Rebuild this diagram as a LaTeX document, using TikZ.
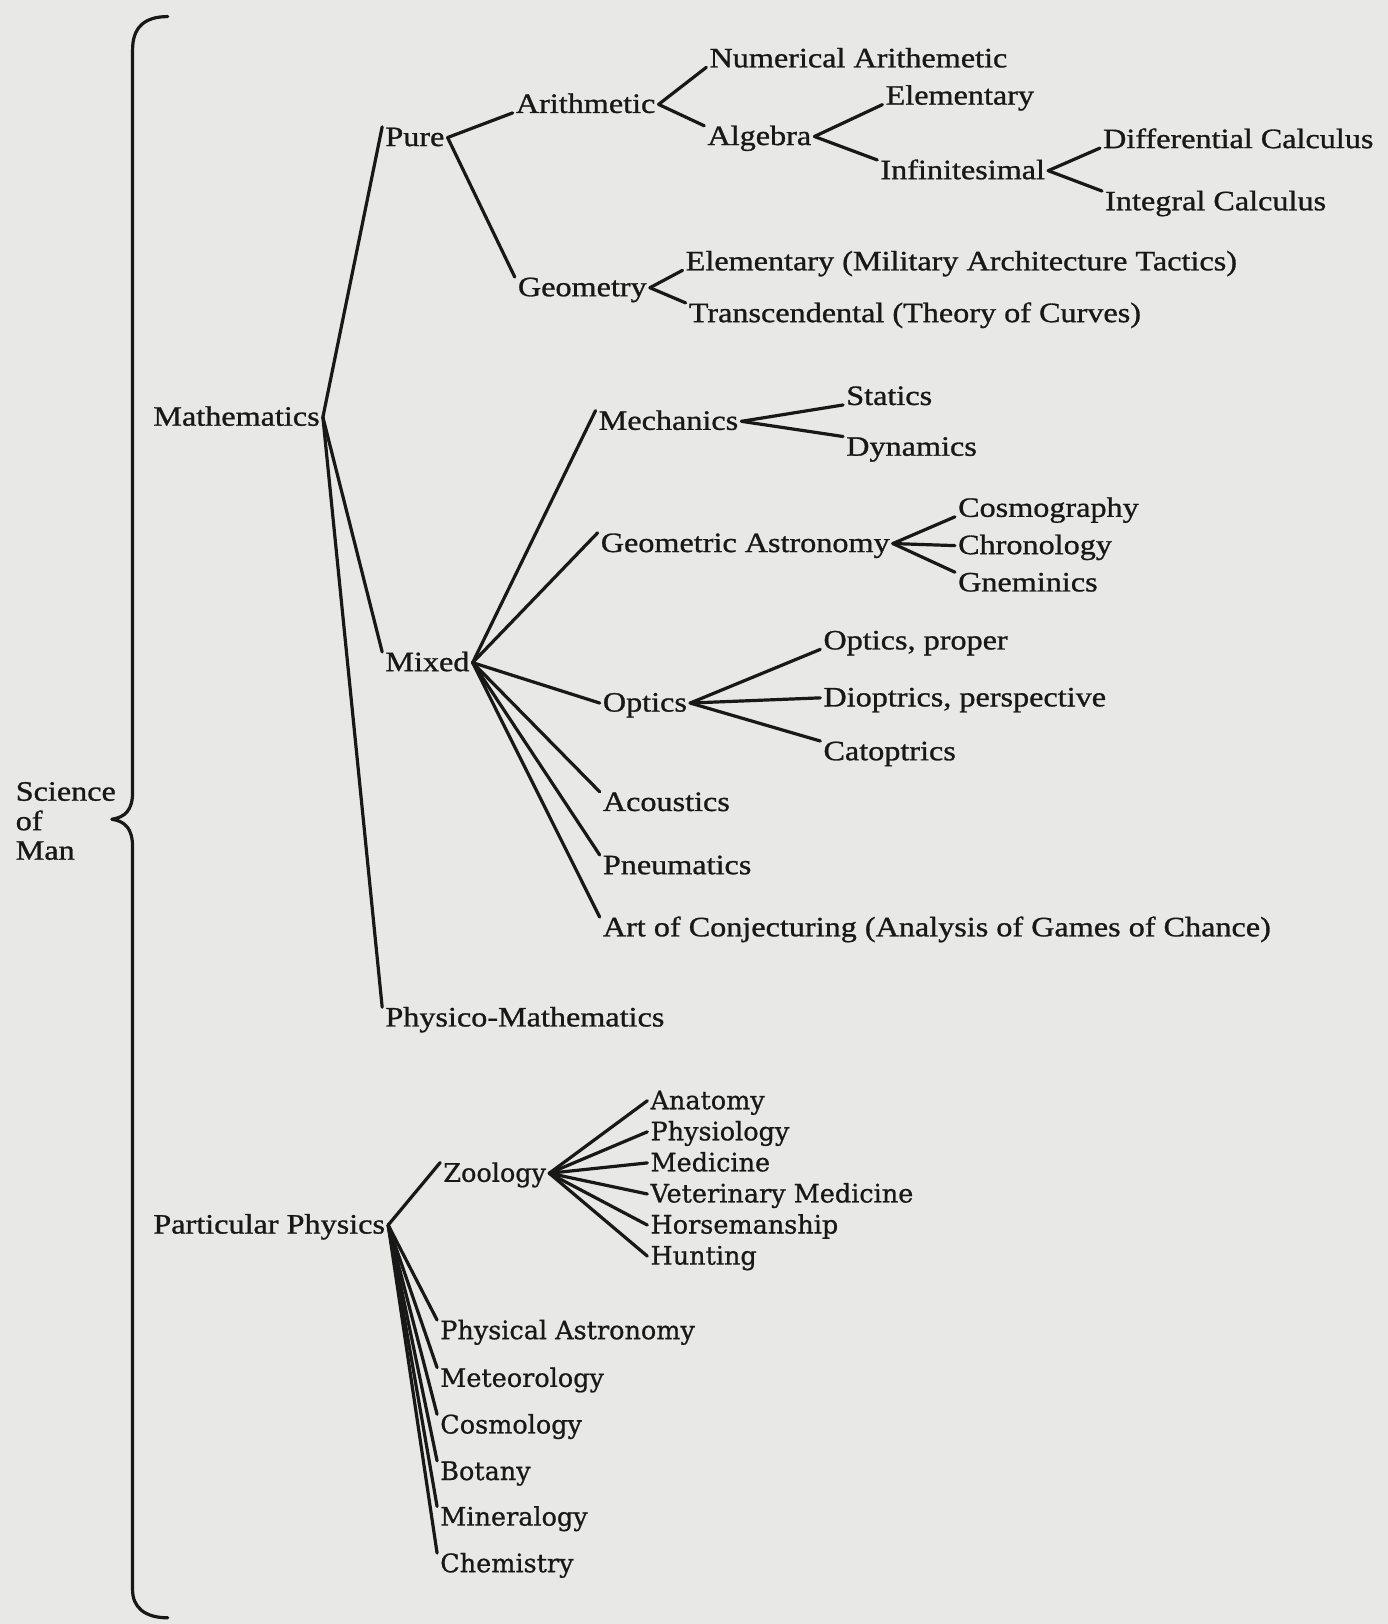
\documentclass[tikz,border=0pt]{standalone}
\usepackage{fontspec}
\setmainfont{Liberation Serif}[FakeStretch=1.15,FakeBold=1]
\newfontfamily\lowfont{DejaVu Serif}[FakeBold=0.8]
\definecolor{ink}{RGB}{24,24,24}
\definecolor{paper}{RGB}{232,232,230}
\begin{document}
\begin{tikzpicture}[x=1.0358pt,y=-1.0358pt,
  lbl/.style={inner xsep=3pt, inner ysep=0pt, text height=19pt, text depth=2pt,
    anchor=base west, font=\fontsize{28}{30}\selectfont, text=ink},
  lbl2/.style={lbl, text height=19pt, font=\lowfont\fontsize{25.5}{28}\selectfont},
  br/.style={line width=3.2pt, draw=ink, line cap=round, line join=round}]
\fill[paper] (0,0) rectangle (1340,1568);
\useasboundingbox (0,0) rectangle (1340,1568);
% Science of Man
\node[font=\fontsize{28}{29.5}\selectfont, text=ink, align=left, inner sep=0pt, anchor=base west] (som) at (15,830) {Science\\of\\Man};
\draw[br] (162,16) .. controls (140,16) and (128,26) .. (128,48) -- (128,765)
  .. controls (128,782) and (121,789) .. (108,791)
  .. controls (121,793) and (128,800) .. (128,818) -- (128,1535)
  .. controls (128,1552) and (140,1562) .. (162,1562);
% Mathematics
\node[lbl] (math) at (145,411) {Mathematics};
\node[lbl] (pure) at (369,141) {Pure};
\node[lbl] (arith) at (495,109) {Arithmetic};
\node[lbl] (numar) at (682,65) {Numerical Arithemetic};
\node[lbl] (alg) at (680,140) {Algebra};
\node[lbl] (elem) at (852,101) {Elementary};
\node[lbl] (infin) at (847,173) {Infinitesimal};
\node[lbl] (diff) at (1062,143) {Differential Calculus};
\node[lbl] (integ) at (1064,203) {Integral Calculus};
\node[lbl] (geom) at (497,286) {Geometry};
\node[lbl] (elmil) at (659,261) {Elementary (Military Architecture Tactics)};
\node[lbl] (trans) at (662,311) {Transcendental (Theory of Curves)};
\node[lbl] (mixed) at (369,648) {Mixed};
\node[lbl] (mech) at (575,415) {Mechanics};
\node[lbl] (stat) at (814,391) {Statics};
\node[lbl] (dyn) at (814,440) {Dynamics};
\node[lbl] (geoast) at (577,533) {Geometric Astronomy};
\node[lbl] (cosmog) at (922,499) {Cosmography};
\node[lbl] (chron) at (922,535) {Chronology};
\node[lbl] (gnem) at (922,571) {Gneminics};
\node[lbl] (optics) at (579,687) {Optics};
\node[lbl] (optprop) at (792,627) {Optics, proper};
\node[lbl] (diopt) at (792,682) {Dioptrics, perspective};
\node[lbl] (catop) at (792,734) {Catoptrics};
\node[lbl] (acous) at (579,783) {Acoustics};
\node[lbl] (pneu) at (579,844) {Pneumatics};
\node[lbl] (artc) at (579,904) {Art of Conjecturing (Analysis of Games of Chance)};
\node[lbl] (phys) at (369,991) {Physico-Mathematics};
% Particular Physics
\node[lbl] (part) at (145,1191) {Particular Physics};
\node[lbl2] (zoo) at (425,1141) {Zoology};
\node[lbl2] (anat) at (625,1071) {Anatomy};
\node[lbl2] (physio) at (625,1101) {Physiology};
\node[lbl2] (medi) at (625,1131) {Medicine};
\node[lbl2] (vet) at (625,1161) {Veterinary Medicine};
\node[lbl2] (horse) at (625,1191) {Horsemanship};
\node[lbl2] (hunt) at (625,1221) {Hunting};
\node[lbl2] (pastro) at (422,1293) {Physical Astronomy};
\node[lbl2] (meteo) at (422,1339) {Meteorology};
\node[lbl2] (cosmo) at (422,1384) {Cosmology};
\node[lbl2] (bot) at (422,1429) {Botany};
\node[lbl2] (miner) at (422,1473) {Mineralogy};
\node[lbl2] (chem) at (422,1518) {Chemistry};
% connectors
\draw[br] (math.east) -- (pure.north west);
\draw[br] (math.east) -- (mixed.north west);
\draw[br] (math.east) -- (phys.north west);
\draw[br] (pure.east) -- (arith.base west);
\draw[br] (pure.east) -- (geom.north west);
\draw[br] (arith.east) -- (numar.base west);
\draw[br] (arith.east) -- (alg.north west);
\draw[br] (alg.east) -- (elem.base west);
\draw[br] (alg.east) -- (infin.north west);
\draw[br] (infin.east) -- (diff.base west);
\draw[br] (infin.east) -- (integ.north west);
\draw[br] (geom.east) -- (elmil.base west);
\draw[br] (geom.east) -- (trans.north west);
\foreach \t/\a in {mech/north west, geoast/north west, optics/west, acous/north west, pneu/north west, artc/north west}
  \draw[br] (mixed.east) -- (\t.\a);
\draw[br] (mech.east) -- (stat.base west);
\draw[br] (mech.east) -- (dyn.north west);
\draw[br] (geoast.east) -- (cosmog.base west);
\draw[br] (geoast.east) -- (chron.west);
\draw[br] (geoast.east) -- (gnem.north west);
\draw[br] (optics.east) -- (optprop.base west);
\draw[br] (optics.east) -- (diopt.west);
\draw[br] (optics.east) -- (catop.north west);
\draw[br] (part.east) -- (zoo.north west);
\foreach \t in {pastro, meteo, cosmo, bot, miner, chem}
  \draw[br] (part.east) -- (\t.north west);
\foreach \t in {anat, physio, medi, vet, horse, hunt}
  \draw[br] (zoo.east) -- (\t.west);
\end{tikzpicture}
\end{document}
